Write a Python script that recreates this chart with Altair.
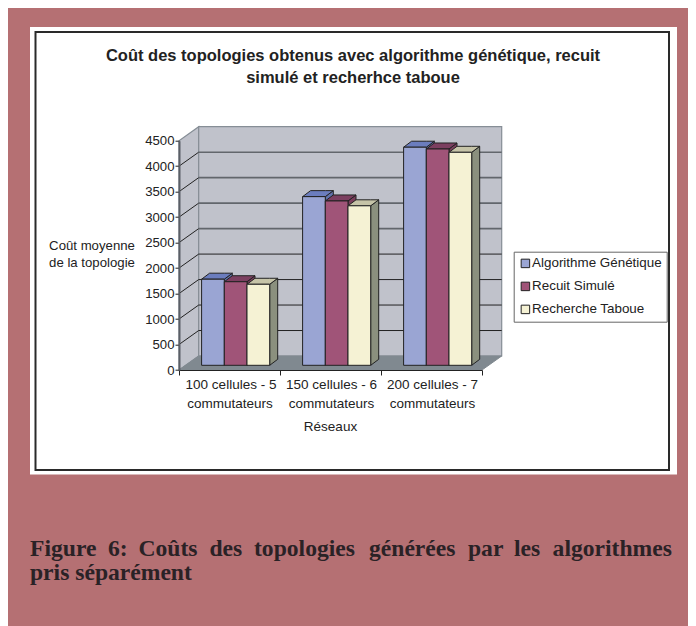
import altair as alt
import pandas as pd

# ---- values
categories = ["100 cellules - 5\ncommutateurs", "150 cellules - 6\ncommutateurs", "200 cellules - 7\ncommutateurs"]
series = ["Algorithme Génétique", "Recuit Simulé", "Recherche Taboue"]
genetique = [1690, 3310, 4280]
recuit = [1640, 3225, 4245]
taboue = [1590, 3130, 4180]
y_ticks = [0, 500, 1000, 1500, 2000, 2500, 3000, 3500, 4000, 4500]
grid_dark = [500, 1000, 1500, 2000]
grid_grey = [2500, 3000, 3500, 4000]

front_col = ["#9AA5D3", "#A05478", "#F5F2D4"]
top_col = ["#6B7DBE", "#7C3F60", "#C6C4A8"]
side_col = ["#6172AC", "#7A3E5C", "#8B907E"]

# ---- layout constants (image pixels)
L, T = 179.0, 140.7
W, H = 303.0, 229.3
PX = 3.0 / W            # x units per pixel
PY = 4500.0 / H         # y units per pixel
DX, DY = 19.7 * PX, 14.0 * PY          # wall depth
BDX, BDY = 8.0 * PX, 6.0 * PY          # bar depth
OFF_Y = 4.7 * PY                        # bar distance from the front edge
BAR = 22.7 * PX
START = 22.6 * PX

values = [genetique, recuit, taboue]
bars, faces = [], []
for k in range(3):
    for s in range(3):
        x0 = k + START + s * BAR
        x1 = x0 + BAR
        v = values[s][k] + OFF_Y
        b = OFF_Y
        bars.append(dict(series=series[s], x=x0, x2=x1, y=b, y2=v))
        sid = f"side{k}{s}"
        faces += [dict(face=sid, c=side_col[s], x=x1, y=b, y2=v),
                  dict(face=sid, c=side_col[s], x=x1 + BDX, y=b + BDY, y2=v + BDY)]
        tid = f"top{k}{s}"
        faces += [dict(face=tid, c=top_col[s], x=x0, y=v, y2=v),
                  dict(face=tid, c=top_col[s], x=x0 + BDX, y=v, y2=v + BDY),
                  dict(face=tid, c=top_col[s], x=x1, y=v, y2=v + BDY),
                  dict(face=tid, c=top_col[s], x=x1 + BDX, y=v + BDY, y2=v + BDY)]

xs = alt.Scale(domain=[0, 3], nice=False, zero=False)
ys = alt.Scale(domain=[0, 4500], nice=False, zero=False)
x_axis = alt.Axis(values=[0, 1, 2, 3], labels=False, tickSize=5, tickColor="#222222", domainColor="#222222",
                  grid=False, zindex=1, title=None)
y_axis = alt.Axis(values=y_ticks, format="d", tickSize=4, tickColor="#222222", domainColor="#5A5F66",
                  domainWidth=2, labelFont="Liberation Sans", labelFontSize=13.2, labelColor="#222222",
                  labelPadding=1, grid=False, zindex=1, title=None)
XQ = alt.X("x:Q", scale=xs, axis=x_axis, title=None)
YQ = alt.Y("y:Q", scale=ys, axis=y_axis, title=None)

walls = pd.DataFrame(
    [dict(face="left", c="#C0C2CB", x=0, y=0, y2=4500), dict(face="left", c="#C0C2CB", x=DX, y=DY, y2=4500 + DY),
     dict(face="back", c="#C0C2CB", x=DX, y=DY, y2=4500 + DY), dict(face="back", c="#C0C2CB", x=3 + DX, y=DY, y2=4500 + DY)])
floor = pd.DataFrame(
    [dict(face="floor", c="#808990", x=0, y=0, y2=0), dict(face="floor", c="#808990", x=DX, y=0, y2=DY),
     dict(face="floor", c="#808990", x=3, y=0, y2=DY), dict(face="floor", c="#808990", x=3 + DX, y=DY, y2=DY)])


def area(df, stroke, sw):
    return alt.Chart(df).mark_area(stroke=stroke, strokeWidth=sw).encode(
        x=XQ, y=YQ, y2="y2:Q", detail="face:N", color=alt.Color("c:N", scale=None))


def rect(x0, x1, y0, y1, **kw):
    return alt.Chart(pd.DataFrame({"a": [0]})).mark_rect(**kw).encode(
        x=alt.value(x0 - L), x2=alt.value(x1 - L), y=alt.value(y0 - T), y2=alt.value(y1 - T))


def text(t, x, y, size=12, bold=False, align="center", font="Liberation Sans", color="#222222"):
    return alt.Chart(pd.DataFrame({"t": [t]})).mark_text(
        font=font, fontSize=size, fontWeight="bold" if bold else "normal", align=align,
        baseline="alphabetic", color=color).encode(
        x=alt.value(x - L), y=alt.value(y - T), text="t:N")


diag = pd.DataFrame([dict(v=v, x=x, y=y) for v in y_ticks[1:-1] for x, y in ((0, v), (DX, v + DY))])
back_dark = pd.DataFrame([dict(v=v, x=x, y=v + DY) for v in grid_dark for x in (DX, 3 + DX)])
back_grey = pd.DataFrame([dict(v=v, x=x, y=v + DY) for v in grid_grey for x in (DX, 3 + DX)])

layers = [
    rect(30, 677, 27, 474.5, color="white"),
    rect(35.5, 669, 32, 470, fill="white", stroke="#2A2A2A", strokeWidth=2),
    area(walls, "#868E96", 1.2),
    area(floor, "#808990", 1),
    alt.Chart(diag).mark_line(color="#222222", strokeWidth=1).encode(x=XQ, y=YQ, detail="v:N"),
    alt.Chart(back_dark).mark_line(color="#222222", strokeWidth=1).encode(x=XQ, y=YQ, detail="v:N"),
    alt.Chart(back_grey).mark_line(color="#62666C", strokeWidth=1.6).encode(x=XQ, y=YQ, detail="v:N"),
    area(pd.DataFrame(faces), "#222222", 1),
    alt.Chart(pd.DataFrame(bars)).mark_bar(stroke="#222222", strokeWidth=1).encode(
        x=XQ, x2="x2:Q", y=YQ, y2="y2:Q",
        fill=alt.Fill("series:N", sort=series, scale=alt.Scale(domain=series, range=front_col),
                      legend=alt.Legend(
                          title=None, orient="none", legendX=513.7 - L, legendY=251.7 - T,
                          symbolType="square", symbolSize=72, symbolStrokeColor="#222222", symbolStrokeWidth=1,
                          labelFont="Liberation Sans", labelFontSize=13.4, labelColor="#222222",
                          fillColor="white", strokeColor="#666666", padding=5, rowPadding=8,
                          labelOffset=0, values=series))),
    text("Coût des topologies obtenus avec algorithme génétique, recuit", 353, 61, 16.5, True),
    text("simulé et recherhce taboue", 353, 83, 16.5, True),
    text("Coût moyenne", 92, 250, 13.2),
    text("de la topologie", 92, 267, 13.2),
    text("100 cellules - 5", 231, 389, 13.5),
    text("commutateurs", 230, 408, 13.5),
    text("150 cellules - 6", 331.5, 389, 13.5),
    text("commutateurs", 331.5, 408, 13.5),
    text("200 cellules - 7", 432.5, 389, 13.5),
    text("commutateurs", 432.5, 408, 13.5),
    text("Réseaux", 330.5, 431, 13.5),
]

caption_words = [("Figure", 30), ("6:", 108), ("Coûts", 138.5), ("des", 209.5), ("topologies", 254),
                 ("générées", 369), ("par", 468), ("les", 514), ("algorithmes", 552.6)]
for w, x in caption_words:
    layers.append(text(w, x, 556, 23.6, True, "left", "Liberation Serif", "#2A2226"))
layers.append(text("pris séparément", 30, 580, 23.6, True, "left", "Liberation Serif", "#2A2226"))

chart = alt.layer(*layers).properties(
    width=W, height=H, background="#B57073",
    padding={"left": L - 8, "top": T - 8, "right": 696 - 8 - L - W, "bottom": 618 - (T - 8) - H},
    autosize=alt.AutoSizeParams(type="none"),
).configure_view(stroke=None)

chart.save("out.html", embed_options={"renderer": "svg", "actions": False})
